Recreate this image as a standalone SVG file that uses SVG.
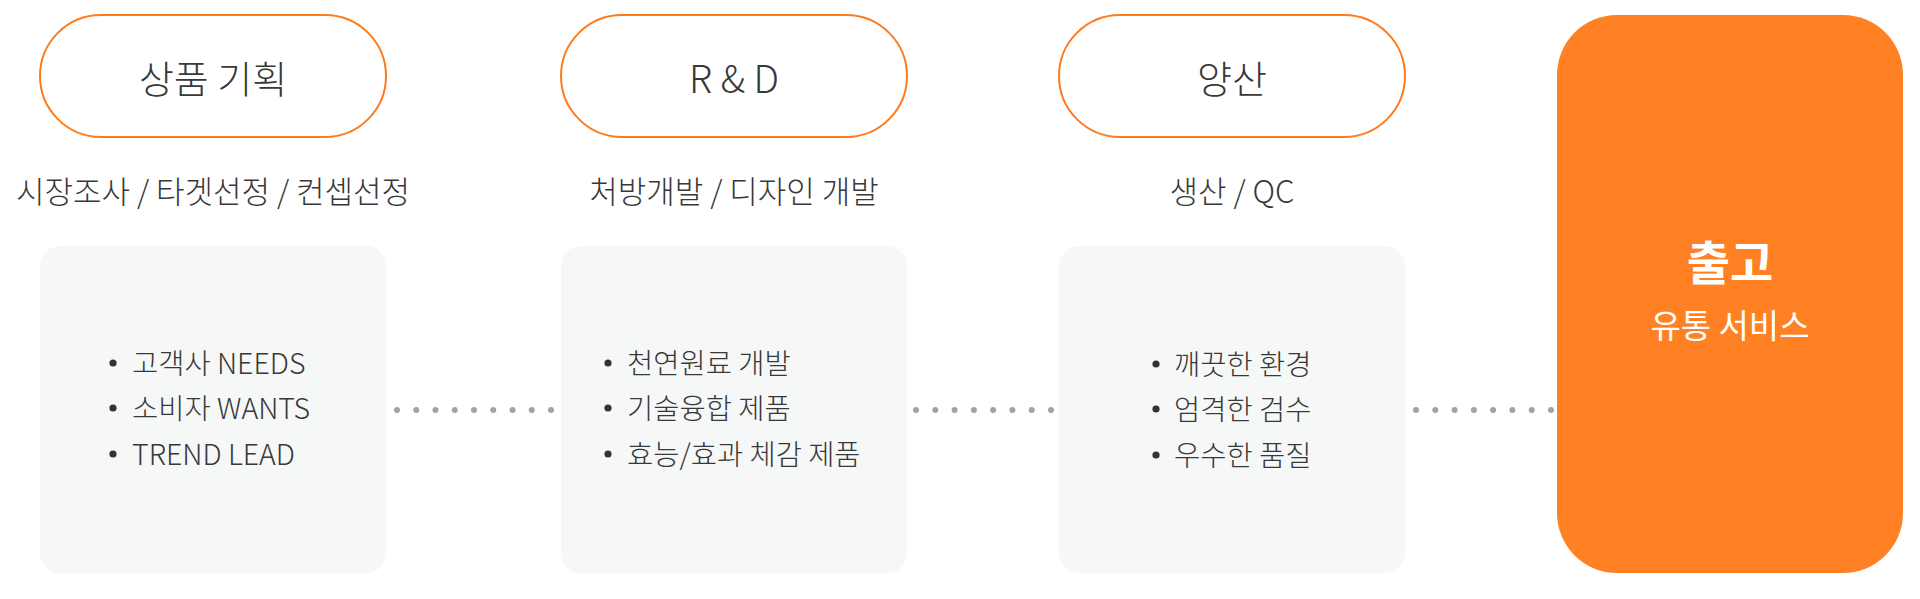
<svg xmlns="http://www.w3.org/2000/svg" width="1920" height="599" viewBox="0 0 1920 599">
  <style>
    .t { font-family: "Noto Sans CJK KR", "Noto Sans", sans-serif; fill: #383838; font-weight: 300; }
    .pill { fill: #ffffff; stroke: #ff7a1c; stroke-width: 2; }
    .card { fill: #f6f7f7; }
    .title { font-size: 38px; text-anchor: middle; }
    .sub { font-size: 31px; text-anchor: middle; }
    .item { font-size: 28.5px; }
    .bul { fill: #333333; }
    .dot { fill: #a3a3a3; }
    .w { font-family: "Noto Sans CJK KR", "Noto Sans", sans-serif; fill: #ffffff; text-anchor: middle; }
  </style>
  <rect width="1920" height="599" fill="#ffffff"/>

  <g id="connectors">
    <g class="dot">
      <circle cx="397" cy="410" r="3"/><circle cx="416.25" cy="410" r="3"/><circle cx="435.5" cy="410" r="3"/>
      <circle cx="454.75" cy="410" r="3"/><circle cx="474" cy="410" r="3"/><circle cx="493.25" cy="410" r="3"/>
      <circle cx="512.5" cy="410" r="3"/><circle cx="531.75" cy="410" r="3"/><circle cx="551" cy="410" r="3"/>
    </g>
    <g class="dot">
      <circle cx="916" cy="410" r="3"/><circle cx="935.3" cy="410" r="3"/><circle cx="954.6" cy="410" r="3"/>
      <circle cx="973.9" cy="410" r="3"/><circle cx="993.1" cy="410" r="3"/><circle cx="1012.4" cy="410" r="3"/>
      <circle cx="1031.7" cy="410" r="3"/><circle cx="1051" cy="410" r="3"/>
    </g>
    <g class="dot">
      <circle cx="1416" cy="410" r="3"/><circle cx="1435.3" cy="410" r="3"/><circle cx="1454.6" cy="410" r="3"/>
      <circle cx="1473.9" cy="410" r="3"/><circle cx="1493.1" cy="410" r="3"/><circle cx="1512.4" cy="410" r="3"/>
      <circle cx="1531.7" cy="410" r="3"/><circle cx="1551" cy="410" r="3"/>
    </g>
  </g>

  <g id="stage-planning">
    <rect class="pill" x="40" y="15" width="346" height="122" rx="61"/>
    <text class="t title" x="213" y="93">상품 기획</text>
    <text class="t sub" x="213" y="203">시장조사 / 타겟선정 / 컨셉선정</text>
    <rect class="card" x="40" y="246" width="346" height="327" rx="20"/>
    <circle class="bul" cx="113" cy="363" r="3.6"/>
    <circle class="bul" cx="113" cy="408" r="3.6"/>
    <circle class="bul" cx="113" cy="454" r="3.6"/>
    <text class="t item" x="132" y="374">고객사 NEEDS</text>
    <text class="t item" x="132" y="419">소비자 WANTS</text>
    <text class="t item" x="132" y="465">TREND LEAD</text>
  </g>

  <g id="stage-rnd">
    <rect class="pill" x="561" y="15" width="346" height="122" rx="61"/>
    <text class="t title" x="734" y="93">R &amp; D</text>
    <text class="t sub" x="734" y="203">처방개발 / 디자인 개발</text>
    <rect class="card" x="561" y="246" width="346" height="327" rx="20"/>
    <circle class="bul" cx="608" cy="363" r="3.6"/>
    <circle class="bul" cx="608" cy="408" r="3.6"/>
    <circle class="bul" cx="608" cy="454" r="3.6"/>
    <text class="t item" x="627" y="374">천연원료 개발</text>
    <text class="t item" x="627" y="419">기술융합 제품</text>
    <text class="t item" x="627" y="465">효능/효과 체감 제품</text>
  </g>

  <g id="stage-production">
    <rect class="pill" x="1059" y="15" width="346" height="122" rx="61"/>
    <text class="t title" x="1232" y="93">양산</text>
    <text class="t sub" x="1232" y="203">생산 / QC</text>
    <rect class="card" x="1059" y="246" width="346" height="327" rx="20"/>
    <circle class="bul" cx="1156" cy="364" r="3.6"/>
    <circle class="bul" cx="1156" cy="409" r="3.6"/>
    <circle class="bul" cx="1156" cy="455" r="3.6"/>
    <text class="t item" x="1174" y="375">깨끗한 환경</text>
    <text class="t item" x="1174" y="420">엄격한 검수</text>
    <text class="t item" x="1174" y="466">우수한 품질</text>
  </g>

  <g id="stage-shipping">
    <rect x="1557" y="15" width="346" height="558" rx="60" fill="#ff8124"/>
    <text class="w" x="1730" y="280" font-size="47" font-weight="700">출고</text>
    <text class="w" x="1730" y="338" font-size="33">유통 서비스</text>
  </g>
</svg>
